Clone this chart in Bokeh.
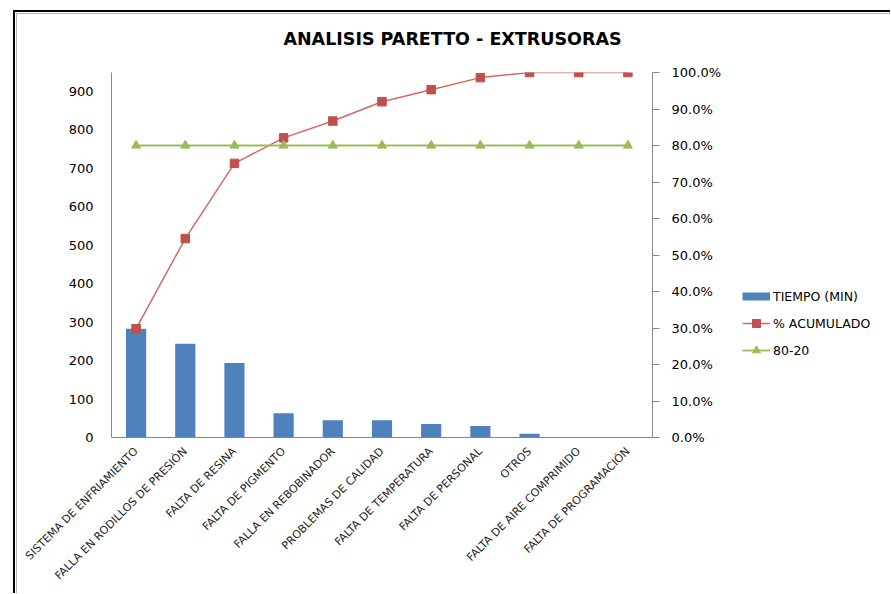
import math
from bokeh.plotting import figure
from bokeh.models import (FactorRange, Range1d, LinearAxis, NumeralTickFormatter, Label,
                          FixedTicker, Legend, LegendItem, Column, Row, ColumnDataSource)
from bokeh.embed import file_html
from bokeh.resources import INLINE

# ---------------- data ----------------
categorias = [
    "SISTEMA DE ENFRIAMIENTO",
    "FALLA EN RODILLOS DE PRESIÓN",
    "FALTA DE RESINA",
    "FALTA DE PIGMENTO",
    "FALLA EN REBOBINADOR",
    "PROBLEMAS DE CALIDAD",
    "FALTA DE TEMPERATURA",
    "FALTA DE PERSONAL",
    "OTROS",
    "FALTA DE AIRE COMPRIMIDO",
    "FALTA DE PROGRAMACIÓN",
]
tiempo_min = [283, 244, 194, 63, 45, 45, 35, 30, 10, 0, 0]
pct_acumulado = [0.298, 0.545, 0.751, 0.821, 0.867, 0.920, 0.953, 0.986, 1.0, 1.0, 1.0]
linea_80_20 = [0.8, 0.8, 0.8, 0.8, 0.8, 0.8, 0.8, 0.8, 0.8, 0.8, 0.8]
ticks_tiempo = [0, 100, 200, 300, 400, 500, 600, 700, 800, 900]
ticks_pct = [0.0, 0.1, 0.2, 0.3, 0.4, 0.5, 0.6, 0.7, 0.8, 0.9, 1.0]
eje_max = sum(tiempo_min)

titulo = "ANALISIS PARETTO - EXTRUSORAS"
nombres = ["TIEMPO (MIN)", "% ACUMULADO", "80-20"]

# ---------------- styles ----------------
BLUE = "#4F81BD"
RED = "#C0504D"
GREEN = "#9BBB59"
AXIS = "#868686"
FONT = "DejaVu Sans"


def blank(fig):
    fig.outline_line_color = None
    fig.xgrid.grid_line_color = None
    fig.ygrid.grid_line_color = None
    fig.background_fill_color = "white"
    fig.border_fill_color = "white"


# ---------------- title strip ----------------
tf = figure(width=873, height=40, x_range=Range1d(0, 1), y_range=Range1d(0, 1),
            x_axis_type=None, y_axis_type=None, output_backend="svg", toolbar_location=None,
            min_border=0, min_border_left=0, min_border_right=0, min_border_top=0,
            min_border_bottom=0)
blank(tf)
tf.add_layout(Label(x=435, y=16, x_units="screen", y_units="screen", text=titulo,
                    text_align="center", text_baseline="middle", text_font=FONT,
                    text_font_size="17.5px", text_font_style="bold", text_color="#000000"))

# ---------------- main chart ----------------
src = ColumnDataSource(dict(cat=categorias, t=tiempo_min, pct=pct_acumulado, ref=linea_80_20))

p = figure(width=718, height=539, x_range=FactorRange(*categorias, range_padding=0),
           y_range=Range1d(0, eje_max), output_backend="svg", toolbar_location=None,
           min_border_left=94, min_border_right=83, min_border_top=18, min_border_bottom=156)
p.extra_y_ranges = {"pct": Range1d(0, 1)}
blank(p)

# left axis
ya = p.yaxis[0]
ya.ticker = FixedTicker(ticks=ticks_tiempo)
ya.axis_line_color = AXIS
ya.major_tick_line_color = None
ya.major_tick_out = 0
ya.major_tick_in = 0
ya.minor_tick_line_color = None
ya.major_label_standoff = 18
ya.major_label_text_font = FONT
ya.major_label_text_font_size = "13px"
ya.major_label_text_color = "#000000"

# bottom axis
xa = p.xaxis[0]
xa.axis_line_color = AXIS
xa.major_tick_line_color = None
xa.major_tick_out = 0
xa.major_tick_in = 0
xa.minor_tick_line_color = None
xa.major_label_orientation = math.pi / 4
xa.major_label_text_font = FONT
xa.major_label_text_font_size = "11px"
xa.major_label_text_color = "#222222"
xa.major_label_standoff = 12

# right axis
ra = LinearAxis(y_range_name="pct", ticker=FixedTicker(ticks=ticks_pct),
                formatter=NumeralTickFormatter(format="0.0%"))
ra.axis_line_color = AXIS
ra.major_tick_line_color = AXIS
ra.major_tick_out = 7
ra.major_tick_in = 0
ra.minor_tick_line_color = None
ra.major_label_standoff = 12
ra.major_label_text_font = FONT
ra.major_label_text_font_size = "13px"
ra.major_label_text_color = "#000000"
p.add_layout(ra, "right")

# bars
p.vbar(x="cat", top="t", width=0.41, source=src, fill_color=BLUE, line_color=None)

# cumulative line
p.line(x="cat", y="pct", source=src, y_range_name="pct", line_color="#D06A67", line_width=1.5)
p.scatter(x="cat", y="pct", source=src, y_range_name="pct", marker="square", size=8.5,
          fill_color=RED, line_color=RED)

# 80-20 line
p.line(x="cat", y="ref", source=src, y_range_name="pct", line_color=GREEN, line_width=1.8)
p.scatter(x="cat", y="ref", source=src, y_range_name="pct", marker="triangle", size=9,
          fill_color=GREEN, line_color=GREEN)

# ---------------- legend strip ----------------
lf = figure(width=155, height=539, x_range=Range1d(0, 1), y_range=Range1d(0, 1),
            x_axis_type=None, y_axis_type=None, output_backend="svg", toolbar_location=None,
            min_border=0, min_border_left=0, min_border_right=0, min_border_top=0,
            min_border_bottom=0)
blank(lf)

# proxies placed outside the visible range; only their legend glyphs show
px = [-5.0]
py = [-5.0]
g0 = lf.line(x=px, y=py, line_color=BLUE, line_width=8)
g1a = lf.line(x=px, y=py, line_color="#D06A67", line_width=1.5)
g1b = lf.scatter(x=px, y=py, marker="square", size=8.5, fill_color=RED, line_color=RED)
g2a = lf.line(x=px, y=py, line_color=GREEN, line_width=1.8)
g2b = lf.scatter(x=px, y=py, marker="triangle", size=9, fill_color=GREEN, line_color=GREEN)

legend = Legend(items=[
    LegendItem(label=nombres[0], renderers=[g0]),
    LegendItem(label=nombres[1], renderers=[g1a, g1b]),
    LegendItem(label=nombres[2], renderers=[g2a, g2b]),
], location=(7, 77))
legend.border_line_color = None
legend.background_fill_alpha = 0
legend.padding = 0
legend.margin = 0
legend.spacing = 7
legend.glyph_width = 28
legend.glyph_height = 20
legend.label_height = 20
legend.label_standoff = 3
legend.label_text_font = FONT
legend.label_text_font_size = "12.5px"
legend.label_text_color = "#000000"
lf.add_layout(legend)

inner = Column(children=[tf, Row(children=[p, lf], spacing=0)], spacing=0,
               styles={"border-left": "1px solid #b4b4b4", "border-top": "1px solid #b4b4b4"})
wrap = Column(children=[inner], styles={"margin-left": "13px", "margin-top": "10px",
                                        "border-left": "2px solid black",
                                        "border-top": "2px solid black",
                                        "padding-left": "1px", "padding-top": "1px"})

open("out.html", "w").write(file_html(wrap, INLINE))
